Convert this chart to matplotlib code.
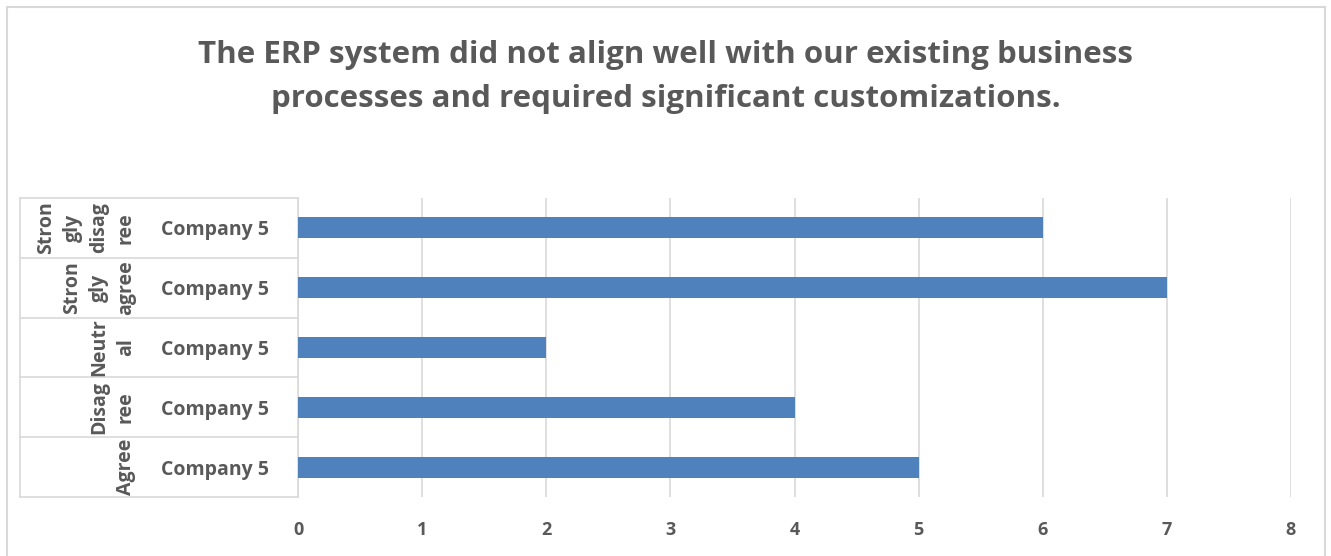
import matplotlib.pyplot as plt
from matplotlib.patches import Rectangle
from matplotlib.transforms import blended_transform_factory

# survey answers, bottom row first
categories = ["Agree", "Disagree", "Neutral", "Strongly agree", "Strongly disagree"]
wrapped = ["Agree", "Disag\nree", "Neutr\nal", "Stron\ngly\nagree", "Stron\ngly\ndisag\nree"]
company = ["Company 5"] * 5
counts = [5, 4, 2, 7, 6]
xticks = [0, 1, 2, 3, 4, 5, 6, 7, 8]

title = ("The ERP system did not align well with our existing business\n"
         "processes and required significant customizations.")

plt.rcParams['font.family'] = ['Open Sans', 'DejaVu Sans']
txt = '#595959'
grid = '#D9D9D9'

fig = plt.figure(figsize=(13.31, 5.56), dpi=100)
fig.patches.append(Rectangle((7 / 1331, -0.1), (1325 - 7) / 1331, 1.1 - 7 / 556,
                             transform=fig.transFigure, fill=False,
                             edgecolor=grid, linewidth=1.5))

ax = fig.add_axes([298 / 1331, 59 / 556, 993 / 1331, 299 / 556])
ypos = list(range(len(categories)))
ax.barh(ypos, counts, height=0.35, color='#4F81BD', zorder=3)

ax.set_xlim(0, 8)
ax.set_ylim(-0.5, 4.5)
ax.set_xticks(xticks)
ax.set_xticklabels([str(t) for t in xticks], fontsize=13, fontweight='bold', color=txt)
ax.set_yticks(ypos)
ax.set_yticklabels(company, fontsize=14, fontweight='bold', color=txt)
ax.tick_params(axis='x', length=0, pad=17)
ax.tick_params(axis='y', length=0, pad=21)
ax.grid(axis='x', color=grid, linewidth=1.2, zorder=0)
for s in ['top', 'right', 'bottom']:
    ax.spines[s].set_visible(False)
ax.spines['left'].set_color(grid)
ax.spines['left'].set_linewidth(1.2)

# category boxes on the left
tr = blended_transform_factory(ax.transAxes, ax.transData)
x_left = (20 - 298) / 993
for b in [y - 0.5 for y in ypos] + [4.5]:
    ax.plot([x_left, 0], [b, b], color=grid, linewidth=1.2, transform=tr, clip_on=False)
ax.plot([x_left, x_left], [-0.5, 4.5], color=grid, linewidth=1.2, transform=tr, clip_on=False)
x_lab = (136 - 298) / 993
for y, lab in zip(ypos, wrapped):
    ax.text(x_lab, y, lab, transform=tr, rotation=90, ha='right', va='center',
            multialignment='center', fontsize=14, fontweight='bold', color=txt,
            linespacing=1.45)

fig.text(0.5, 0.862, title, ha='center', va='center', fontsize=22.5,
         fontweight='bold', color=txt, linespacing=1.6)

fig.savefig('out.png', dpi=100)
